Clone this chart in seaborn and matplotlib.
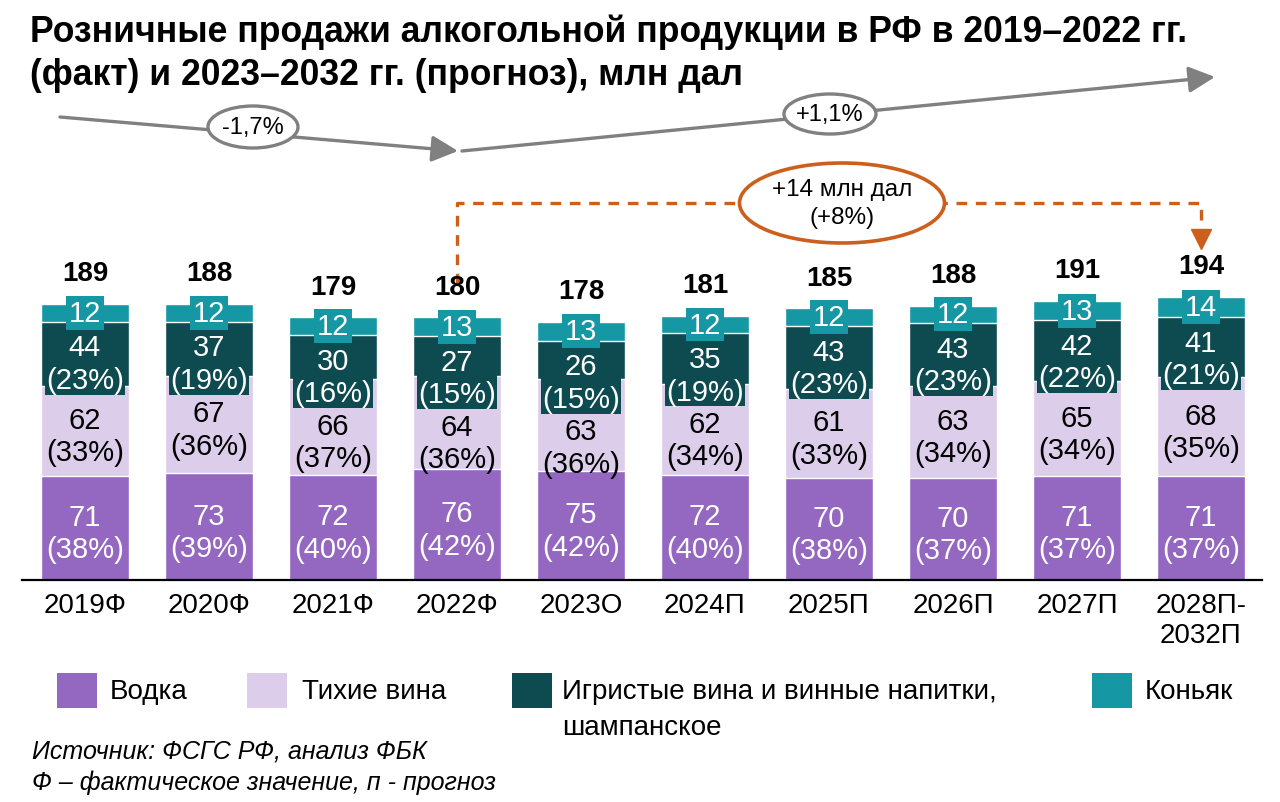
import matplotlib
matplotlib.use("Agg")
import matplotlib.pyplot as plt
import seaborn as sns
import pandas as pd
from matplotlib.patches import Ellipse, FancyArrowPatch, Rectangle

# ---------------- data ----------------
years = ["2019Ф", "2020Ф", "2021Ф", "2022Ф", "2023О", "2024П", "2025П",
         "2026П", "2027П", "2028П-\n2032П"]
vodka = [71, 73, 72, 76, 75, 72, 70, 70, 71, 71]
vodka_pct = [38, 39, 40, 42, 42, 40, 38, 37, 37, 37]
still_wine = [62, 67, 66, 64, 63, 62, 61, 63, 65, 68]
still_pct = [33, 36, 37, 36, 36, 34, 33, 34, 34, 35]
sparkling = [44, 37, 30, 27, 26, 35, 43, 43, 42, 41]
sparkling_pct = [23, 19, 16, 15, 15, 19, 23, 23, 22, 21]
cognac = [12, 12, 12, 13, 13, 12, 12, 12, 13, 14]
totals = [189, 188, 179, 180, 178, 181, 185, 188, 191, 194]
series_names = ["Водка", "Тихие вина",
                "Игристые вина и винные напитки,\nшампанское", "Коньяк"]
cagr_labels = ["-1,7%", "+1,1%"]
growth_label = "+14 млн дал\n(+8%)"
title = ("Розничные продажи алкогольной продукции в РФ в 2019–2022 гг.\n"
         "(факт) и 2023–2032 гг. (прогноз), млн дал")
footer = ["Источник: ФСГС РФ, анализ ФБК",
          "Ф – фактическое значение, п - прогноз"]

# ---------------- style ----------------
C_VODKA = "#9467c0"
C_WINE = "#dccdea"
C_SPARK = "#0d4b51"
C_COGNAC = "#1597a4"
C_GRAY = "#808080"
C_ORANGE = "#cc5f1c"

sns.set_theme(style="white")
plt.rcParams["font.family"] = ["Liberation Sans", "DejaVu Sans"]

W, H = 1280, 803
fig = plt.figure(figsize=(W / 100, H / 100), dpi=100)

BASE_PX = 581          # baseline (from top)
TOP_PX = 40
PPU = 1.46             # pixels per unit
ax = fig.add_axes([22 / W, 1 - BASE_PX / H, 1240 / W, (BASE_PX - TOP_PX) / H])

df = pd.DataFrame({"year": years, "vodka": vodka, "wine": still_wine,
                   "spark": sparkling, "cognac": cognac})
df["c1"] = df["vodka"]
df["c2"] = df["c1"] + df["wine"]
df["c3"] = df["c2"] + df["spark"]
df["c4"] = df["c3"] + df["cognac"]

bw = 0.71
for col, colr in [("c4", C_COGNAC), ("c3", C_SPARK), ("c2", C_WINE), ("c1", C_VODKA)]:
    sns.barplot(data=df, x="year", y=col, order=years, color=colr, width=bw,
                saturation=1, errorbar=None, ax=ax, zorder=2)

ax.set_xlim(-0.508, 9.492)
ax.set_ylim(0, (BASE_PX - TOP_PX) / PPU)
ax.set_xlabel("")
ax.set_ylabel("")
ax.set_yticks([])
for s in ["top", "right", "left"]:
    ax.spines[s].set_visible(False)
ax.spines["bottom"].set_color("black")
ax.spines["bottom"].set_linewidth(1.6)
ax.tick_params(axis="x", length=0, pad=9, labelsize=20, labelcolor="black")

FS = 21
SHIFT = 3.5
for i in range(len(years)):
    c1, c2, c3, c4 = df.loc[i, ["c1", "c2", "c3", "c4"]]
    # vodka
    ax.text(i, c1 / 2 - SHIFT, f"{vodka[i]}\n({vodka_pct[i]}%)", ha="center", va="center",
            color="white", fontsize=FS, zorder=5)
    # sparkling
    sp_y = c3 - 26 - SHIFT * 0.8
    ax.text(i, sp_y, f"{sparkling[i]}\n({sparkling_pct[i]}%)", ha="center", va="center",
            color="white", fontsize=FS, zorder=5,
            bbox=dict(boxstyle="square,pad=0.03", fc=C_SPARK, ec="none"))
    # still wine
    wy = min((c1 + c2) / 2, sp_y - 41) - SHIFT
    ax.text(i, wy, f"{still_wine[i]}\n({still_pct[i]}%)", ha="center", va="center",
            color="black", fontsize=FS, zorder=5)
    # cognac
    ax.text(i, (c3 + c4) / 2, f"{cognac[i]}", ha="center", va="center",
            color="white", fontsize=FS, zorder=6,
            bbox=dict(boxstyle="square,pad=0.1", fc=C_COGNAC, ec="none"))
    # total
    ax.text(i, c4 + 21, f"{totals[i]}", ha="center", va="center",
            color="black", fontsize=20, fontweight="bold", zorder=6)


def px2d(xp, yp):
    return ((xp - 85) / 124, (BASE_PX - yp) / PPU)


# gray CAGR arrows
for (a, b) in [((60, 118), (458, 152)), ((462, 152), (1215, 78))]:
    arr = FancyArrowPatch(px2d(*a), px2d(*b),
                          arrowstyle="-|>,head_length=0.8,head_width=0.4",
                          mutation_scale=20, color=C_GRAY, lw=2.4,
                          shrinkA=0, shrinkB=0, zorder=3, clip_on=False)
    ax.add_patch(arr)
for (cx, cy, w, h), lab in zip([(253, 128, 90, 42), (830, 115, 92, 40)], cagr_labels):
    x0, y0 = px2d(cx, cy)
    ax.add_patch(Ellipse((x0, y0), w / 124, h / PPU, fc="white", ec=C_GRAY,
                         lw=2.4, zorder=4, clip_on=False))
    ax.text(x0, y0, lab, ha="center", va="center", fontsize=17, color="black", zorder=5)

# orange growth connector
y_start, y_level, y_end = px2d(0, 285)[1], px2d(0, 204)[1], px2d(0, 232)[1]
ax.plot([3, 3, 9, 9], [y_start, y_level, y_level, y_end], ls=(0, (3.2, 2.6)), lw=2.4,
        color=C_ORANGE, zorder=3, clip_on=False)
ax.plot([9], [px2d(0, 240)[1]], marker="v", markersize=14, color=C_ORANGE,
        zorder=3, clip_on=False)
ex, ey = px2d(842, 204)
ax.add_patch(Ellipse((ex, ey), 205 / 124, 80 / PPU, fc="white", ec=C_ORANGE,
                     lw=2.6, zorder=4, clip_on=False))
ax.text(ex, ey, growth_label, ha="center", va="center", fontsize=17.5,
        color="black", zorder=5, linespacing=1.35)

# title
fig.text(30 / W, 1 - 14 / H, title, ha="left", va="top", fontsize=25.6,
         fontweight="bold", color="black", linespacing=1.33)

# legend
leg_sq_x = [57, 247, 512, 1092]
leg_text_x = [110, 302, 562, 1145]
leg_colors = [C_VODKA, C_WINE, C_SPARK, C_COGNAC]
for sx, tx, colr, name in zip(leg_sq_x, leg_text_x, leg_colors, series_names):
    fig.patches.append(Rectangle((sx / W, 1 - 709 / H), 40 / W, 35 / H,
                                 transform=fig.transFigure, fc=colr, ec="none"))
    for k, part in enumerate(name.split("\n")):
        fig.text(tx / W, 1 - (692 + 36 * k) / H, part, ha="left", va="center",
                 fontsize=20, color="black")

# footer
for k, line in enumerate(footer):
    fig.text(32 / W, 1 - (752 + 31 * k) / H, line, ha="left", va="center",
             fontsize=18, style="italic", color="black")

fig.savefig("out.png", dpi=100)
